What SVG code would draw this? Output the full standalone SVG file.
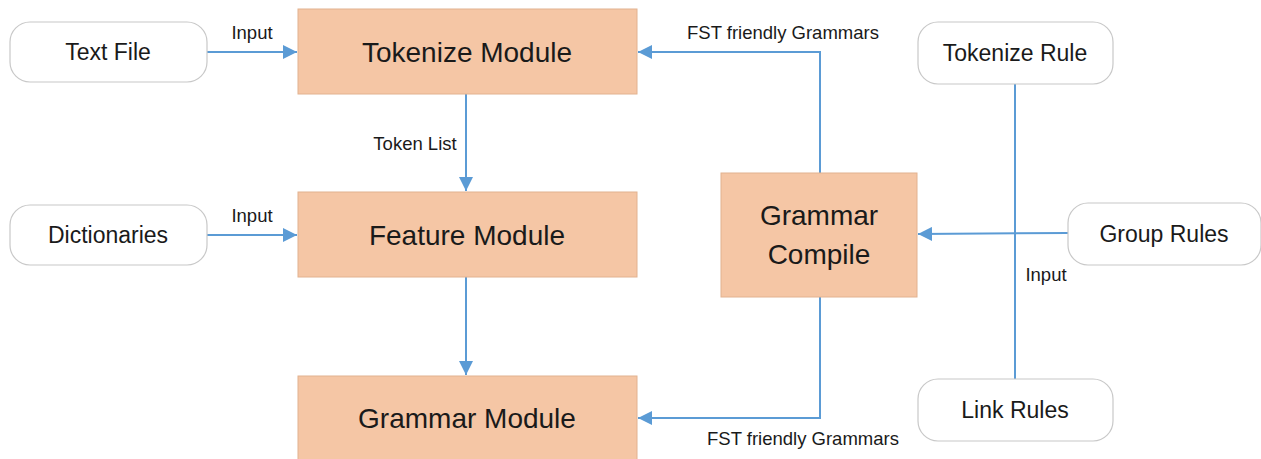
<svg xmlns="http://www.w3.org/2000/svg" width="1261" height="459" viewBox="0 0 1261 459">
<style>
.mod{fill:#F5C6A5;stroke:#E2B28F;stroke-width:1}
.inp{fill:#fff;stroke:#C8C8C8;stroke-width:1.2}
.t{font-family:"Liberation Sans",Arial,sans-serif;fill:#1a1a1a;text-anchor:middle;dominant-baseline:central}
.big{font-size:28px}
.mid{font-size:23px}
.lbl{font-size:18.5px}
.c{fill:none;stroke:#5B9BD5;stroke-width:2}
</style>
<defs>
<marker id="a" viewBox="0 0 12 12" refX="12" refY="6" markerWidth="14" markerHeight="14" orient="auto" markerUnits="userSpaceOnUse">
<path d="M0,0 L12,6 L0,12 z" fill="#5B9BD5"/>
</marker>
</defs>
<rect width="1261" height="459" fill="#fff"/>
<g id="connectors">
<path class="c" d="M207,52 H297" marker-end="url(#a)"/>
<path class="c" d="M207,235 H297" marker-end="url(#a)"/>
<path class="c" d="M466,94 V191" marker-end="url(#a)"/>
<path class="c" d="M466,277 V375" marker-end="url(#a)"/>
<path class="c" d="M820,173 V52 H638" marker-end="url(#a)"/>
<path class="c" d="M820,297 V418 H638" marker-end="url(#a)"/>
<path class="c" d="M1068,233 L918,234" marker-end="url(#a)"/>
<path class="c" d="M1015,84 V379"/>
<text class="t lbl" x="252" y="32">Input</text>
<text class="t lbl" x="252" y="215">Input</text>
<text class="t lbl" x="415" y="143">Token List</text>
<text class="t lbl" x="783" y="32">FST friendly Grammars</text>
<text class="t lbl" x="803" y="438">FST friendly Grammars</text>
<text class="t lbl" x="1046" y="274">Input</text>
</g>
<g id="textfile"><rect class="inp" x="10" y="22" width="197" height="60" rx="20"/><text class="t mid" x="108" y="52">Text File</text></g>
<g id="dictionaries"><rect class="inp" x="10" y="205" width="197" height="60" rx="20"/><text class="t mid" x="108" y="235">Dictionaries</text></g>
<g id="tokenize"><rect class="mod" x="298" y="9" width="339" height="85"/><text class="t big" x="467" y="52">Tokenize Module</text></g>
<g id="feature"><rect class="mod" x="298" y="192" width="339" height="85"/><text class="t big" x="467" y="235">Feature Module</text></g>
<g id="grammar"><rect class="mod" x="298" y="376" width="339" height="90"/><text class="t big" x="467" y="418">Grammar Module</text></g>
<g id="compile"><rect class="mod" x="721" y="173" width="196" height="124"/><text class="t big" x="819" y="215">Grammar</text><text class="t big" x="819" y="254">Compile</text></g>
<g id="tokenizerule"><rect class="inp" x="918" y="22" width="195" height="62" rx="20"/><text class="t mid" x="1015" y="53">Tokenize Rule</text></g>
<g id="grouprules"><rect class="inp" x="1068" y="203" width="193" height="62" rx="20"/><text class="t mid" x="1164" y="234">Group Rules</text></g>
<g id="linkrules"><rect class="inp" x="918" y="379" width="195" height="62" rx="20"/><text class="t mid" x="1015" y="410">Link Rules</text></g>
</svg>
